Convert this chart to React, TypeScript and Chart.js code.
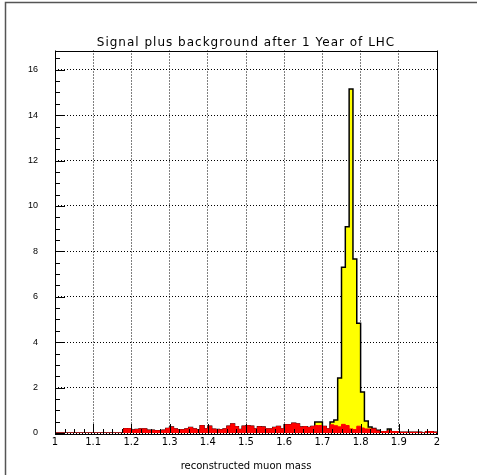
import React, { useEffect, useRef } from 'react';
import { Chart, registerables } from 'chart.js';

Chart.register(...registerables);

const TITLE = 'Signal plus background after 1 Year of LHC';
const X_TITLE = 'reconstructed muon mass';
const X_MIN = 1;
const X_MAX = 2;
const BIN_WIDTH = 0.01;
const Y_MAX = 16.85;
const X_TICK_LABELS = ['1', '1.1', '1.2', '1.3', '1.4', '1.5', '1.6', '1.7', '1.8', '1.9', '2'];
const Y_TICK_LABELS = ['0', '2', '4', '6', '8', '10', '12', '14', '16'];

// background only (red), 100 bins from 1.00 to 2.00
const BACKGROUND = [
  0, 0, 0, 0, 0, 0, 0, 0, 0, 0,
  0, 0, 0, 0, 0, 0, 0, 0, 0.19, 0.19,
  0.13, 0.15, 0.18, 0.18, 0.12, 0.12, 0.10, 0.10, 0.12, 0.20,
  0.26, 0.18, 0.14, 0.14, 0.18, 0.24, 0.18, 0.14, 0.32, 0.18,
  0.30, 0.17, 0.15, 0.14, 0.18, 0.30, 0.40, 0.28, 0.15, 0.30,
  0.32, 0.30, 0.18, 0.27, 0.26, 0.18, 0.18, 0.24, 0.29, 0.18,
  0.36, 0.36, 0.43, 0.40, 0.26, 0.28, 0.24, 0.29, 0.33, 0.33,
  0.29, 0.18, 0.36, 0.32, 0.27, 0.38, 0.33, 0.18, 0.15, 0.30,
  0.22, 0.18, 0.18, 0.18, 0.09, 0.06, 0.06, 0.10, 0.06, 0.06,
  0.03, 0.03, 0.03, 0.03, 0.03, 0.03, 0, 0.06, 0.06, 0.03,
];

// signal plus background (yellow), same binning
const SIGNAL_PLUS_BACKGROUND = [
  0, 0, 0, 0, 0, 0, 0, 0, 0, 0,
  0, 0, 0, 0, 0, 0, 0, 0, 0.19, 0.19,
  0.13, 0.15, 0.18, 0.18, 0.12, 0.12, 0.10, 0.10, 0.12, 0.20,
  0.26, 0.18, 0.14, 0.14, 0.18, 0.24, 0.18, 0.14, 0.32, 0.18,
  0.30, 0.17, 0.15, 0.14, 0.18, 0.30, 0.40, 0.28, 0.15, 0.30,
  0.32, 0.30, 0.18, 0.27, 0.26, 0.18, 0.18, 0.24, 0.29, 0.18,
  0.36, 0.36, 0.43, 0.40, 0.26, 0.28, 0.24, 0.29, 0.48, 0.48,
  0.29, 0.18, 0.48, 0.57, 2.42, 7.30, 9.09, 15.15, 7.66, 4.84,
  1.81, 0.53, 0.26, 0.20, 0.12, 0.06, 0.06, 0.18, 0.06, 0.06,
  0.03, 0.03, 0.03, 0.03, 0.03, 0.03, 0, 0.06, 0.06, 0.03,
];

function histPoints(values: number[]) {
  const pts: { x: number; y: number }[] = [{ x: X_MIN, y: 0 }];
  values.forEach((v, i) => pts.push({ x: X_MIN + i * BIN_WIDTH, y: v }));
  pts.push({ x: X_MAX, y: values[values.length - 1] });
  pts.push({ x: X_MAX, y: 0 });
  return pts;
}

const rootFrame = {
  id: 'rootFrame',
  afterDraw(chart: any) {
    const { ctx, chartArea, scales } = chart;
    const { left, right, top, bottom } = chartArea;
    ctx.save();
    ctx.strokeStyle = '#000';
    ctx.lineWidth = 1;
    ctx.setLineDash([]);
    // inward ticks on y
    const ys = scales.y;
    for (let v = 0; v <= Y_MAX + 1e-9; v += 0.5) {
      const py = Math.round(ys.getPixelForValue(v)) + 0.5;
      const major = Math.abs(v / 2 - Math.round(v / 2)) < 1e-6;
      const len = major ? 10 : 5;
      ctx.beginPath();
      ctx.moveTo(left, py);
      ctx.lineTo(left + len, py);
      ctx.stroke();
    }
    const xs = scales.x;
    for (let k = 0; k <= 40; k++) {
      const v = X_MIN + k * 0.025;
      const px = Math.round(xs.getPixelForValue(v)) + 0.5;
      const len = k % 4 === 0 ? 9 : 4;
      ctx.beginPath();
      ctx.moveTo(px, bottom);
      ctx.lineTo(px, bottom - len);
      ctx.stroke();
    }
    // frame
    ctx.strokeRect(Math.round(left) + 0.5, Math.round(top) + 0.5, Math.round(right - left), Math.round(bottom - top));
    // title
    ctx.fillStyle = '#000';
    ctx.font = '400 12px "DejaVu Sans"';
    (ctx as any).letterSpacing = '1px';
    ctx.textAlign = 'center';
    ctx.textBaseline = 'middle';
    ctx.fillText(TITLE, (left + right) / 2, 43);
    (ctx as any).letterSpacing = '0px';
    // canvas border
    ctx.strokeStyle = '#555';
    ctx.lineWidth = 1.5;
    ctx.beginPath();
    ctx.moveTo(5.5, chart.height);
    ctx.lineTo(5.5, 2.5);
    ctx.lineTo(chart.width - 1, 2.5);
    ctx.stroke();
    ctx.restore();
  },
};

export default function App() {
  const ref = useRef<HTMLCanvasElement>(null);
  useEffect(() => {
    document.body.style.margin = '0';
    const canvas = ref.current!;
    const chart = new Chart(canvas, {
      type: 'line',
      data: {
        datasets: [
          {
            label: 'background',
            data: histPoints(BACKGROUND),
            stepped: true,
            borderColor: '#ff0000',
            backgroundColor: '#ff0000',
            borderWidth: 1,
            fill: 'origin',
            pointRadius: 0,
            order: 0,
          },
          {
            label: 'signal plus background',
            data: histPoints(SIGNAL_PLUS_BACKGROUND),
            stepped: true,
            borderColor: '#000000',
            backgroundColor: '#ffff00',
            borderWidth: 1.5,
            fill: 'origin',
            pointRadius: 0,
            order: 1,
          },
        ],
      },
      options: {
        responsive: false,
        animation: false,
        events: [],
        layout: { padding: { left: 0, right: 41, top: 50.5, bottom: 0 } },
        plugins: {
          legend: { display: false },
          tooltip: { enabled: false },
          title: { display: false },
        },
        scales: {
          x: {
            type: 'linear',
            min: X_MIN,
            max: X_MAX,
            afterFit(scale: any) {
              scale.height = 42;
            },
            ticks: {
              stepSize: 0.1,
              includeBounds: false,
              color: '#000',
              padding: 3,
              maxRotation: 0,
              autoSkip: false,
              font: { family: 'DejaVu Sans', size: 10 },
              callback: (_v: any, i: number) => X_TICK_LABELS[i],
            },
            grid: { color: '#000', lineWidth: 1, drawTicks: false },
            border: { display: false, dash: [1, 2] },
            title: {
              display: true,
              text: X_TITLE,
              color: '#000',
              font: { family: 'DejaVu Sans', size: 10, lineHeight: 1.2 },
              padding: { top: 0, bottom: 3 },
            },
          },
          y: {
            type: 'linear',
            min: 0,
            max: Y_MAX,
            afterFit(scale: any) {
              scale.width = 55;
            },
            ticks: {
              stepSize: 2,
              includeBounds: false,
              color: '#000',
              padding: 17,
              font: { family: 'Liberation Sans', size: 9 },
              callback: (v: any) => Y_TICK_LABELS[Math.round(Number(v) / 2)] ?? '',
            },
            grid: { color: '#000', lineWidth: 1, drawTicks: false },
            border: { display: false, dash: [1, 2] },
          },
        },
      },
      plugins: [rootFrame],
    });
    return () => chart.destroy();
  }, []);
  return (
    <div style={{ position: 'fixed', left: 0, top: 0, width: 478, height: 475, background: '#fff' }}>
      <canvas ref={ref} width={478} height={475} />
    </div>
  );
}
